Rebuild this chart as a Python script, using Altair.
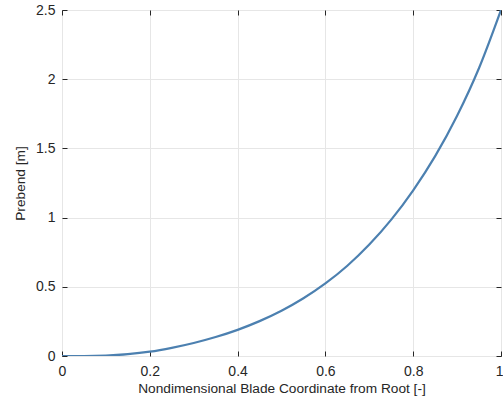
import altair as alt
import pandas as pd

x_vals = [0, 0.05, 0.1, 0.15, 0.2, 0.25, 0.3, 0.35, 0.4, 0.45, 0.5,
          0.55, 0.6, 0.65, 0.7, 0.75, 0.8, 0.85, 0.9, 0.95, 1.0]
prebend = [0, 0, 0.003, 0.013, 0.031, 0.059, 0.094, 0.137, 0.189, 0.252, 0.327,
           0.417, 0.524, 0.652, 0.805, 0.985, 1.197, 1.444, 1.736, 2.081, 2.5]
x_ticks = [0, 0.2, 0.4, 0.6, 0.8, 1]
y_ticks = [0, 0.5, 1, 1.5, 2, 2.5]

df = pd.DataFrame({"x": x_vals, "y": prebend})

FONT = "Liberation Sans"
DARK = "#262626"
GRID = "#e6e6e6"

xs = alt.Scale(domain=[0, 1], nice=False, zero=False)
ys = alt.Scale(domain=[0, 2.5], nice=False, zero=False)

main = alt.Chart(df).mark_line(color="#4c80b0", strokeWidth=2.2, clip=True,
                               interpolate="monotone").encode(
    x=alt.X("x:Q", scale=xs, axis=alt.Axis(
        orient="bottom", values=x_ticks, title="Nondimensional Blade Coordinate from Root [-]",
        grid=True, gridColor=GRID, gridWidth=1, domain=False,
        offset=-5, tickSize=5, tickColor=DARK, tickWidth=1,
        labelPadding=8, labelFont=FONT, labelFontSize=14, labelColor=DARK,
        labelFlush=False, labelOverlap=False,
        labelAlign={"expr": "datum.value == 1 ? 'right' : 'center'"},
        labelOffset={"expr": "datum.value == 1 ? 2 : 0"},
        titleFont=FONT, titleFontSize=13.7, titleFontWeight="normal", titleColor=DARK,
        titlePadding=3, format="~g")),
    y=alt.Y("y:Q", scale=ys, axis=alt.Axis(
        orient="left", values=y_ticks, title="Prebend [m]",
        grid=True, gridColor=GRID, gridWidth=1, domain=False,
        offset=-5, tickSize=5, tickColor=DARK, tickWidth=1,
        labelPadding=7, labelFont=FONT, labelFontSize=14, labelColor=DARK,
        labelFlush=False, labelOverlap=False,
        titleFont=FONT, titleFontSize=13.7, titleFontWeight="normal", titleColor=DARK,
        titlePadding=8, format="~g")),
)

box = alt.Chart(df).mark_line(opacity=0).encode(
    x=alt.X("x:Q", scale=xs, axis=alt.Axis(
        orient="top", values=x_ticks, title=None, labels=False, grid=False, domain=False,
        offset=-5, tickSize=5, tickColor=DARK, tickWidth=1)),
    y=alt.Y("y:Q", scale=ys, axis=alt.Axis(
        orient="right", values=y_ticks, title=None, labels=False, grid=False, domain=False,
        offset=-5, tickSize=5, tickColor=DARK, tickWidth=1)),
)

chart = alt.layer(main, box).resolve_axis(x="independent", y="independent").properties(
    width=439, height=346,
    autosize=alt.AutoSizeParams(type="none"),
    padding={"left": 62, "top": 10, "right": 2, "bottom": 52},
    background="white",
).configure_view(stroke=DARK, strokeWidth=1)

chart.save("out.html", embed_options={"renderer": "svg", "actions": False})
